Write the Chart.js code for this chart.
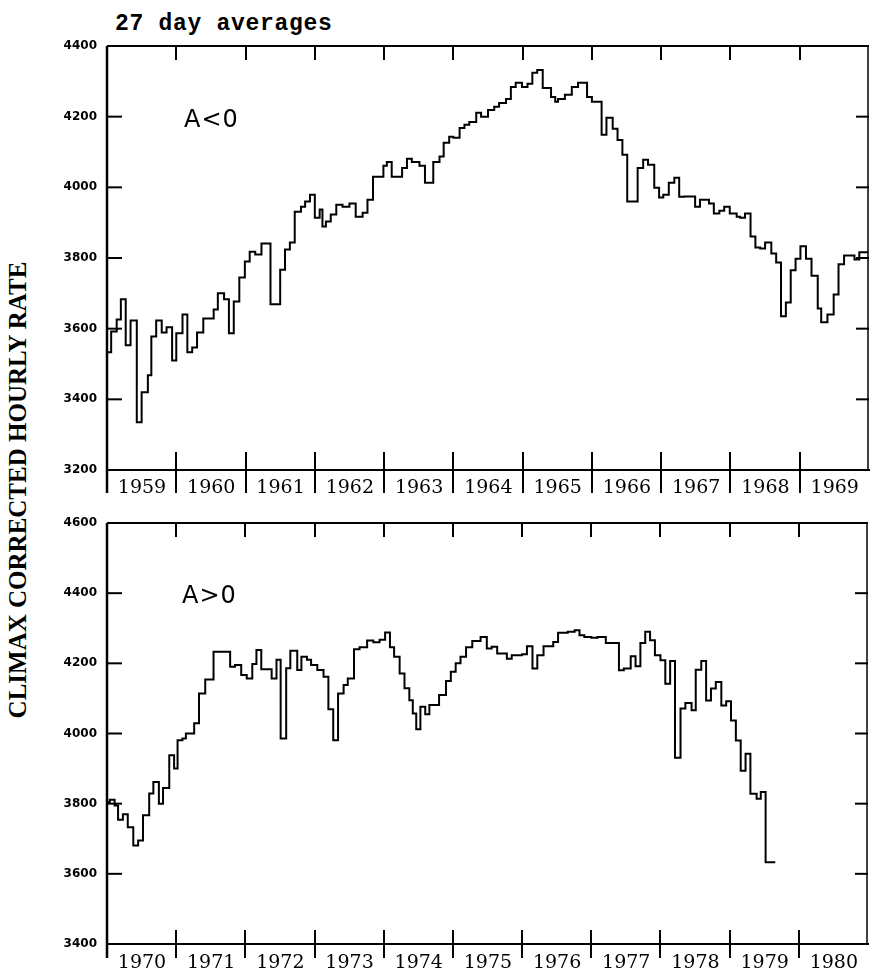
<!DOCTYPE html>
<html>
<head>
<meta charset="utf-8">
<script src="https://cdn.jsdelivr.net/npm/chart.js@4.4.0/dist/chart.umd.min.js"></script>
<style>
html,body{margin:0;padding:0;background:#fff;width:876px;height:971px;overflow:hidden;position:relative}
canvas{position:absolute;left:0}
#c1{top:0}
#c2{top:505px}
#title{position:absolute;left:115px;top:13px;font:bold 23px "Liberation Mono",monospace;letter-spacing:0.7px;line-height:23px;white-space:nowrap;color:#000}
#ylab{position:absolute;left:-231px;top:475px;width:500px;height:30px;line-height:30px;text-align:center;font:bold 25px "Liberation Serif",serif;color:#000;white-space:nowrap;transform:rotate(-90deg);transform-origin:center center}
.pl{position:absolute;font:24px "DejaVu Sans",sans-serif;letter-spacing:1px;line-height:24px;color:#000;white-space:nowrap}
#pl1{left:184px;top:107px}
#pl2{left:182px;top:583px}
</style>
</head>
<body>
<div id="title">27 day averages</div>
<div id="ylab">CLIMAX CORRECTED HOURLY RATE</div>
<canvas id="c1" width="876" height="505"></canvas>
<canvas id="c2" width="876" height="466"></canvas>
<div class="pl" id="pl1">A&lt;0</div>
<div class="pl" id="pl2">A&gt;0</div>
<script>
// ---- Data (27-day averages) ----
const topYearLabels = ['1959','1960','1961','1962','1963','1964','1965','1966','1967','1968','1969'];
const bottomYearLabels = ['1970','1971','1972','1973','1974','1975','1976','1977','1978','1979','1980'];
const topRateTicks = [3200,3400,3600,3800,4000,4200,4400];
const bottomRateTicks = [3400,3600,3800,4000,4200,4400,4600];

const topYearStart = [1959.00,1959.06,1959.14,1959.20,1959.27,1959.34,1959.43,1959.50,1959.59,1959.64,1959.71,1959.79,1959.86,1959.94,
1960.00,1960.09,1960.16,1960.23,1960.30,1960.39,1960.54,1960.60,1960.69,1960.76,1960.83,1960.91,1960.99,
1961.06,1961.14,1961.23,1961.36,1961.50,1961.57,1961.64,1961.71,1961.80,1961.86,1961.93,
1962.00,1962.07,1962.11,1962.16,1962.23,1962.31,1962.40,1962.50,1962.59,1962.69,1962.76,1962.84,1962.99,
1963.04,1963.11,1963.26,1963.33,1963.40,1963.51,1963.59,1963.71,1963.80,1963.86,1963.94,
1964.00,1964.09,1964.16,1964.23,1964.33,1964.40,1964.50,1964.59,1964.66,1964.76,1964.83,1964.90,1964.99,
1965.07,1965.14,1965.21,1965.29,1965.41,1965.47,1965.51,1965.61,1965.71,1965.80,1965.93,
1966.00,1966.14,1966.21,1966.30,1966.37,1966.44,1966.51,1966.66,1966.74,1966.81,1966.90,1966.97,
1967.03,1967.11,1967.19,1967.26,1967.33,1967.49,1967.56,1967.69,1967.76,1967.84,1967.91,1967.99,
1968.09,1968.14,1968.21,1968.29,1968.36,1968.43,1968.50,1968.59,1968.66,1968.73,1968.80,1968.87,1968.94,
1969.01,1969.09,1969.17,1969.26,1969.31,1969.40,1969.49,1969.56,1969.64,1969.79,1969.86,1969.94];
const topRate = [3598,3533,3592,3626,3683,3553,3623,3335,3420,3468,3578,3623,3589,3604,
3510,3587,3640,3533,3547,3589,3629,3654,3700,3683,3587,3677,3745,
3790,3818,3810,3841,3669,3767,3824,3844,3931,3945,3960,
3979,3914,3937,3889,3903,3923,3951,3945,3954,3917,3928,3965,4030,
4061,4072,4030,4055,4081,4072,4061,4013,4072,4087,4126,
4143,4140,4168,4177,4185,4211,4200,4219,4228,4239,4250,4284,4296,
4284,4293,4324,4332,4281,4256,4242,4250,4262,4284,4296,
4256,4242,4149,4197,4166,4134,4092,3960,4055,4078,4064,3999,
3971,3979,4013,4027,3973,3974,3945,3965,3954,3926,3934,3945,
3926,3917,3914,3926,3861,3830,3827,3844,3813,3787,3635,3674,3765,
3798,3833,3798,3750,3657,3618,3640,3697,3782,3807,3796,3816];
const topEnd = 1969.99;

const bottomYearStart = [1970.00,1970.04,1970.11,1970.16,1970.23,1970.30,1970.38,1970.45,1970.52,1970.61,1970.67,1970.75,1970.81,1970.90,1970.97,
1971.02,1971.09,1971.14,1971.26,1971.33,1971.42,1971.54,1971.78,1971.85,1971.94,
1972.02,1972.10,1972.16,1972.23,1972.38,1972.45,1972.51,1972.59,1972.65,1972.75,1972.81,1972.89,1972.95,
1973.04,1973.13,1973.20,1973.27,1973.34,1973.42,1973.48,1973.57,1973.65,1973.76,1973.85,1973.94,
1974.02,1974.09,1974.15,1974.23,1974.30,1974.37,1974.42,1974.47,1974.53,1974.60,1974.66,1974.80,1974.90,1974.97,
1975.04,1975.11,1975.19,1975.28,1975.40,1975.49,1975.56,1975.64,1975.78,1975.85,
1976.00,1976.07,1976.15,1976.22,1976.31,1976.45,1976.52,1976.66,1976.76,1976.83,1976.90,
1977.00,1977.09,1977.21,1977.40,1977.47,1977.57,1977.64,1977.71,1977.78,1977.85,1977.92,
1978.00,1978.07,1978.14,1978.21,1978.29,1978.36,1978.45,1978.51,1978.59,1978.66,1978.73,1978.80,1978.88,1978.95,
1979.02,1979.09,1979.16,1979.23,1979.30,1979.39,1979.45,1979.52,1979.60];
const bottomRate = [3795,3805,3811,3795,3754,3770,3733,3681,3695,3767,3829,3862,3800,3845,3938,
3900,3981,3986,4000,4029,4114,4154,4233,4190,4195,
4167,4157,4198,4238,4183,4157,4210,3986,4186,4236,4181,4219,4210,
4195,4181,4162,4069,3981,4114,4138,4157,4240,4246,4265,4260,
4267,4288,4246,4219,4171,4129,4095,4057,4012,4076,4055,4081,4110,4150,
4176,4200,4219,4246,4264,4275,4242,4247,4228,4213,
4223,4226,4249,4185,4223,4249,4261,4287,4290,4294,4280,
4275,4273,4275,4258,4180,4185,4220,4192,4258,4290,4266,
4223,4209,4142,4207,3931,4071,4087,4066,4182,4207,4094,4128,4147,4080,
4092,4037,3980,3894,3942,3828,3814,3833,3633];
const bottomEnd = 1979.66;

// ---- Chart construction ----
function stepPoints(starts, vals, end){
  const pts = starts.map((x,i)=>({x:x, y:vals[i]}));
  pts.push({x:end, y:vals[vals.length-1]});
  return pts;
}

const framePlugin = {
  id:'frame',
  afterDraw(chart){
    const {ctx, chartArea:a, scales:{x,y}} = chart;
    const o = chart.options.frameOpts;
    ctx.save();
    ctx.strokeStyle = '#000';
    ctx.lineCap = 'butt';
    ctx.lineWidth = 2;
    ctx.beginPath(); ctx.moveTo(a.left, a.top); ctx.lineTo(a.right, a.top); ctx.stroke();
    ctx.lineWidth = 1.5;
    ctx.beginPath(); ctx.moveTo(a.right-1, a.top); ctx.lineTo(a.right-1, a.bottom); ctx.stroke();
    ctx.lineWidth = 2.5;
    ctx.beginPath(); ctx.moveTo(a.left, a.top); ctx.lineTo(a.left, a.bottom + o.below); ctx.stroke();
    ctx.lineWidth = 2;
    x.ticks.forEach(t=>{
      const px = Math.round(x.getPixelForValue(t.value));
      if (px >= a.right-2) return;
      ctx.beginPath(); ctx.moveTo(px, a.top); ctx.lineTo(px, a.top + 14); ctx.stroke();
      ctx.beginPath(); ctx.moveTo(px, a.bottom - o.above); ctx.lineTo(px, a.bottom + o.below); ctx.stroke();
    });
    y.ticks.forEach(t=>{
      const py = y.getPixelForValue(t.value);
      ctx.beginPath(); ctx.moveTo(a.left, py); ctx.lineTo(a.left + 15, py); ctx.stroke();
      ctx.beginPath(); ctx.moveTo(a.right - 13, py); ctx.lineTo(a.right, py); ctx.stroke();
    });
    ctx.restore();
  }
};

function makeChart(id, starts, vals, end, yearLabels, rateTicks, padTop, xHeight, below, above, labPad){
  const x0 = parseInt(yearLabels[0],10);
  return new Chart(document.getElementById(id), {
    type:'line',
    data:{datasets:[{
      data: stepPoints(starts, vals, end),
      stepped:'after',
      borderColor:'#000',
      borderWidth:2,
      pointRadius:0,
      fill:false
    }]},
    options:{
      responsive:false,
      animation:false,
      events:[],
      frameOpts:{below:below, above:above},
      layout:{padding:{left:0,right:1,top:padTop,bottom:0}},
      plugins:{legend:{display:false},tooltip:{enabled:false},title:{display:false}},
      scales:{
        x:{
          type:'linear',
          min:x0, max:x0 + yearLabels.length,
          afterFit:(s)=>{ s.height = xHeight; },
          afterBuildTicks:(s)=>{ s.ticks = yearLabels.concat(['']).map((_,i)=>({value:x0+i})); },
          ticks:{
            autoSkip:false, maxRotation:0, minRotation:0,
            labelOffset:35, padding:labPad,
            color:'#000',
            font:{family:'DejaVu Serif', size:19},
            callback:(v,i)=> yearLabels[i] || ''
          },
          grid:{display:false, drawTicks:false},
          border:{display:true, color:'#000', width:2}
        },
        y:{
          type:'linear',
          min:rateTicks[0], max:rateTicks[rateTicks.length-1],
          afterFit:(s)=>{ s.width = 107; },
          afterBuildTicks:(s)=>{ s.ticks = rateTicks.map(v=>({value:v})); },
          ticks:{
            padding:10, color:'#000',
            font:{family:'DejaVu Sans', size:12, weight:'bold'},
            callback:(v)=> String(v)
          },
          grid:{display:false, drawTicks:false},
          border:{display:false}
        }
      }
    },
    plugins:[framePlugin]
  });
}

makeChart('c1', topYearStart, topRate, topEnd, topYearLabels, topRateTicks, 46, 35, 23, 18, 7);
makeChart('c2', bottomYearStart, bottomRate, bottomEnd, bottomYearLabels, bottomRateTicks, 18, 27, 14, 14, 8);
</script>
</body>
</html>
